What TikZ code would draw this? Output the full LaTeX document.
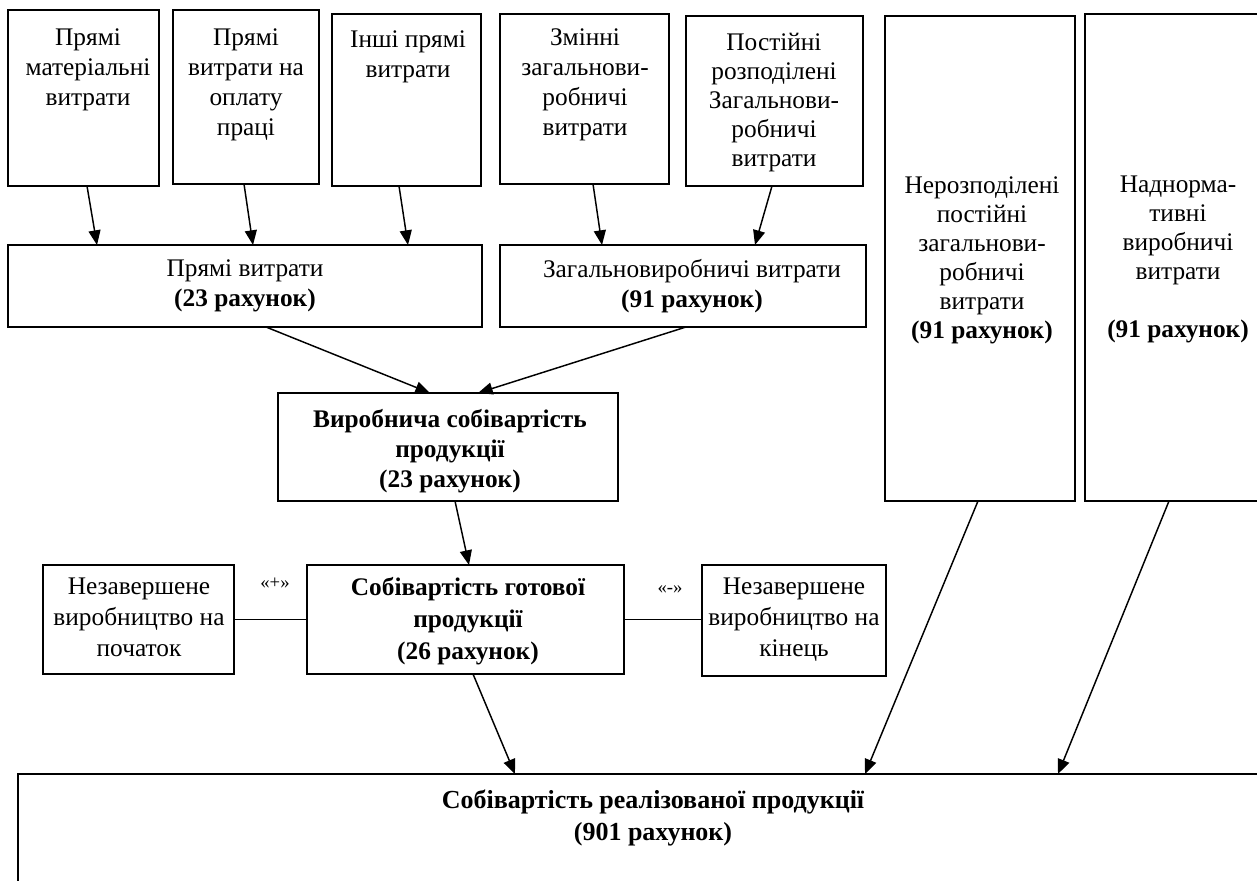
\documentclass[tikz,border=0pt]{standalone}
\usepackage{fontspec}
\setmainfont{Liberation Serif}
\usetikzlibrary{arrows.meta}
\newcommand\mybox[5]{\node[boxst, minimum width={(#4-#2)*0.75pt}, minimum height={(#5-#3)*0.75pt}] (#1) at ({(#2+#4)/2},{(#3+#5)/2}) {};}
\tikzset{
  boxst/.style={draw, line width=1.4pt, inner sep=0pt, outer sep=0pt, rectangle},
  txt/.style={align=center, inner sep=0pt, anchor=north, font=\fontsize{19}{22.5}\selectfont},
  ctxt/.style={align=center, inner sep=0pt, anchor=north, font=\fontsize{19}{23.25}\selectfont},
  arr/.style={line width=1.1pt, -{Triangle[length=11pt,width=9pt]}},
  lnk/.style={line width=1.3pt},
  sml/.style={inner sep=0pt, font=\fontsize{14}{16}\selectfont}
}
\begin{document}
\begin{tikzpicture}[x=0.75pt,y=-0.75pt]
\useasboundingbox (0,0) rectangle (1257,881);
\begin{scope}
\clip (0,0) rectangle (1257,881);
\fill[white] (0,0) rectangle (1257,881);
% boxes
\mybox{b1}{8}{10}{159}{186}
\mybox{b2}{173}{10}{319}{184}
\mybox{b3}{332}{14}{481}{186}
\mybox{b4}{500}{14}{669}{184}
\mybox{b5}{686}{16}{863}{186}
\mybox{b6}{885}{16}{1075}{501}
\mybox{b7}{1085}{14}{1280}{501}
\mybox{pr}{8}{245}{482}{327}
\mybox{zg}{500}{245}{866}{327}
\mybox{vs}{278}{393}{618}{501}
\mybox{nl}{43}{565}{234}{674}
\mybox{sg}{307}{565}{624}{674}
\mybox{nr}{702}{565}{886}{676}
\mybox{sr}{18}{774}{1290}{930}
% texts
\node[txt] (t1) at (88,28) {Прямі\\матеріальні\\витрати};
\node[txt] (t2) at (246,28) {Прямі\\витрати на\\оплату\\праці};
\node[txt] (t3) at (408,30) {Інші прямі\\витрати};
\node[txt] (t4) at (585,28) {Змінні\\загальнови-\\робничі\\витрати};
\node[txt, font=\fontsize{19}{21.75}\selectfont] (t5) at (774,33) {Постійні\\розподілені\\Загальнови-\\робничі\\витрати};
\node[txt, font=\fontsize{19}{21.75}\selectfont] (t6) at (982,176) {Нерозподілені\\постійні\\загальнови-\\робничі\\витрати\\\textbf{(91 рахунок)}};
\node[txt, font=\fontsize{19}{21.75}\selectfont] (t7) at (1178,176) {Наднорма-\\тивні\\виробничі\\витрати\\[21.75pt]\textbf{(91 рахунок)}};
\node[txt] (tpr) at (245,259) {Прямі витрати\\\textbf{(23 рахунок)}};
\node[txt] (tzg) at (692,259) {Загальновиробничі витрати\\\textbf{(91 рахунок)}};
\node[txt, font=\fontsize{19}{22.5}\selectfont\bfseries] (tvs) at (450,409) {Виробнича собівартість\\продукції\\(23 рахунок)};
\node[ctxt] (tnl) at (139,578) {Незавершене\\виробництво на\\початок};
\node[ctxt, font=\fontsize{19}{24}\selectfont\bfseries] (tsg) at (468,577) {Собівартість готової\\продукції\\(26 рахунок)};
\node[ctxt] (tnr) at (794,578) {Незавершене\\виробництво на\\кінець};
\node[ctxt, font=\fontsize{19.5}{23.5}\selectfont\bfseries] (tsr) at (653,790) {Собівартість реалізованої продукції\\(901 рахунок)};
\node[sml] (lp) at (275,583) {«+»};
\node[sml] (lm) at (670,590) {«-»};
% connectors
\draw[arr] (87,0 |- b1.south) -- (97,0 |- pr.north);
\draw[arr] (244,0 |- b2.south) -- (253,0 |- pr.north);
\draw[arr] (399,0 |- b3.south) -- (408,0 |- pr.north);
\draw[arr] (593,0 |- b4.south) -- (602,0 |- zg.north);
\draw[arr] (772,0 |- b5.south) -- (755,0 |- zg.north);
\draw[arr] (266,0 |- pr.south) -- (430,0 |- vs.north);
\draw[arr] (686,0 |- zg.south) -- (478,0 |- vs.north);
\draw[arr] (455,0 |- vs.south) -- (469,0 |- sg.north);
\draw[arr] (473,0 |- sg.south) -- (515,0 |- sr.north);
\draw[arr] (978,0 |- b6.south) -- (865,0 |- sr.north);
\draw[arr] (1169,0 |- b7.south) -- (1058,0 |- sr.north);
\draw[lnk] (nl.east) -- (nl.east -| sg.west);
\draw[lnk] (sg.east) -- (sg.east -| nr.west);
\end{scope}
\end{tikzpicture}
\end{document}
